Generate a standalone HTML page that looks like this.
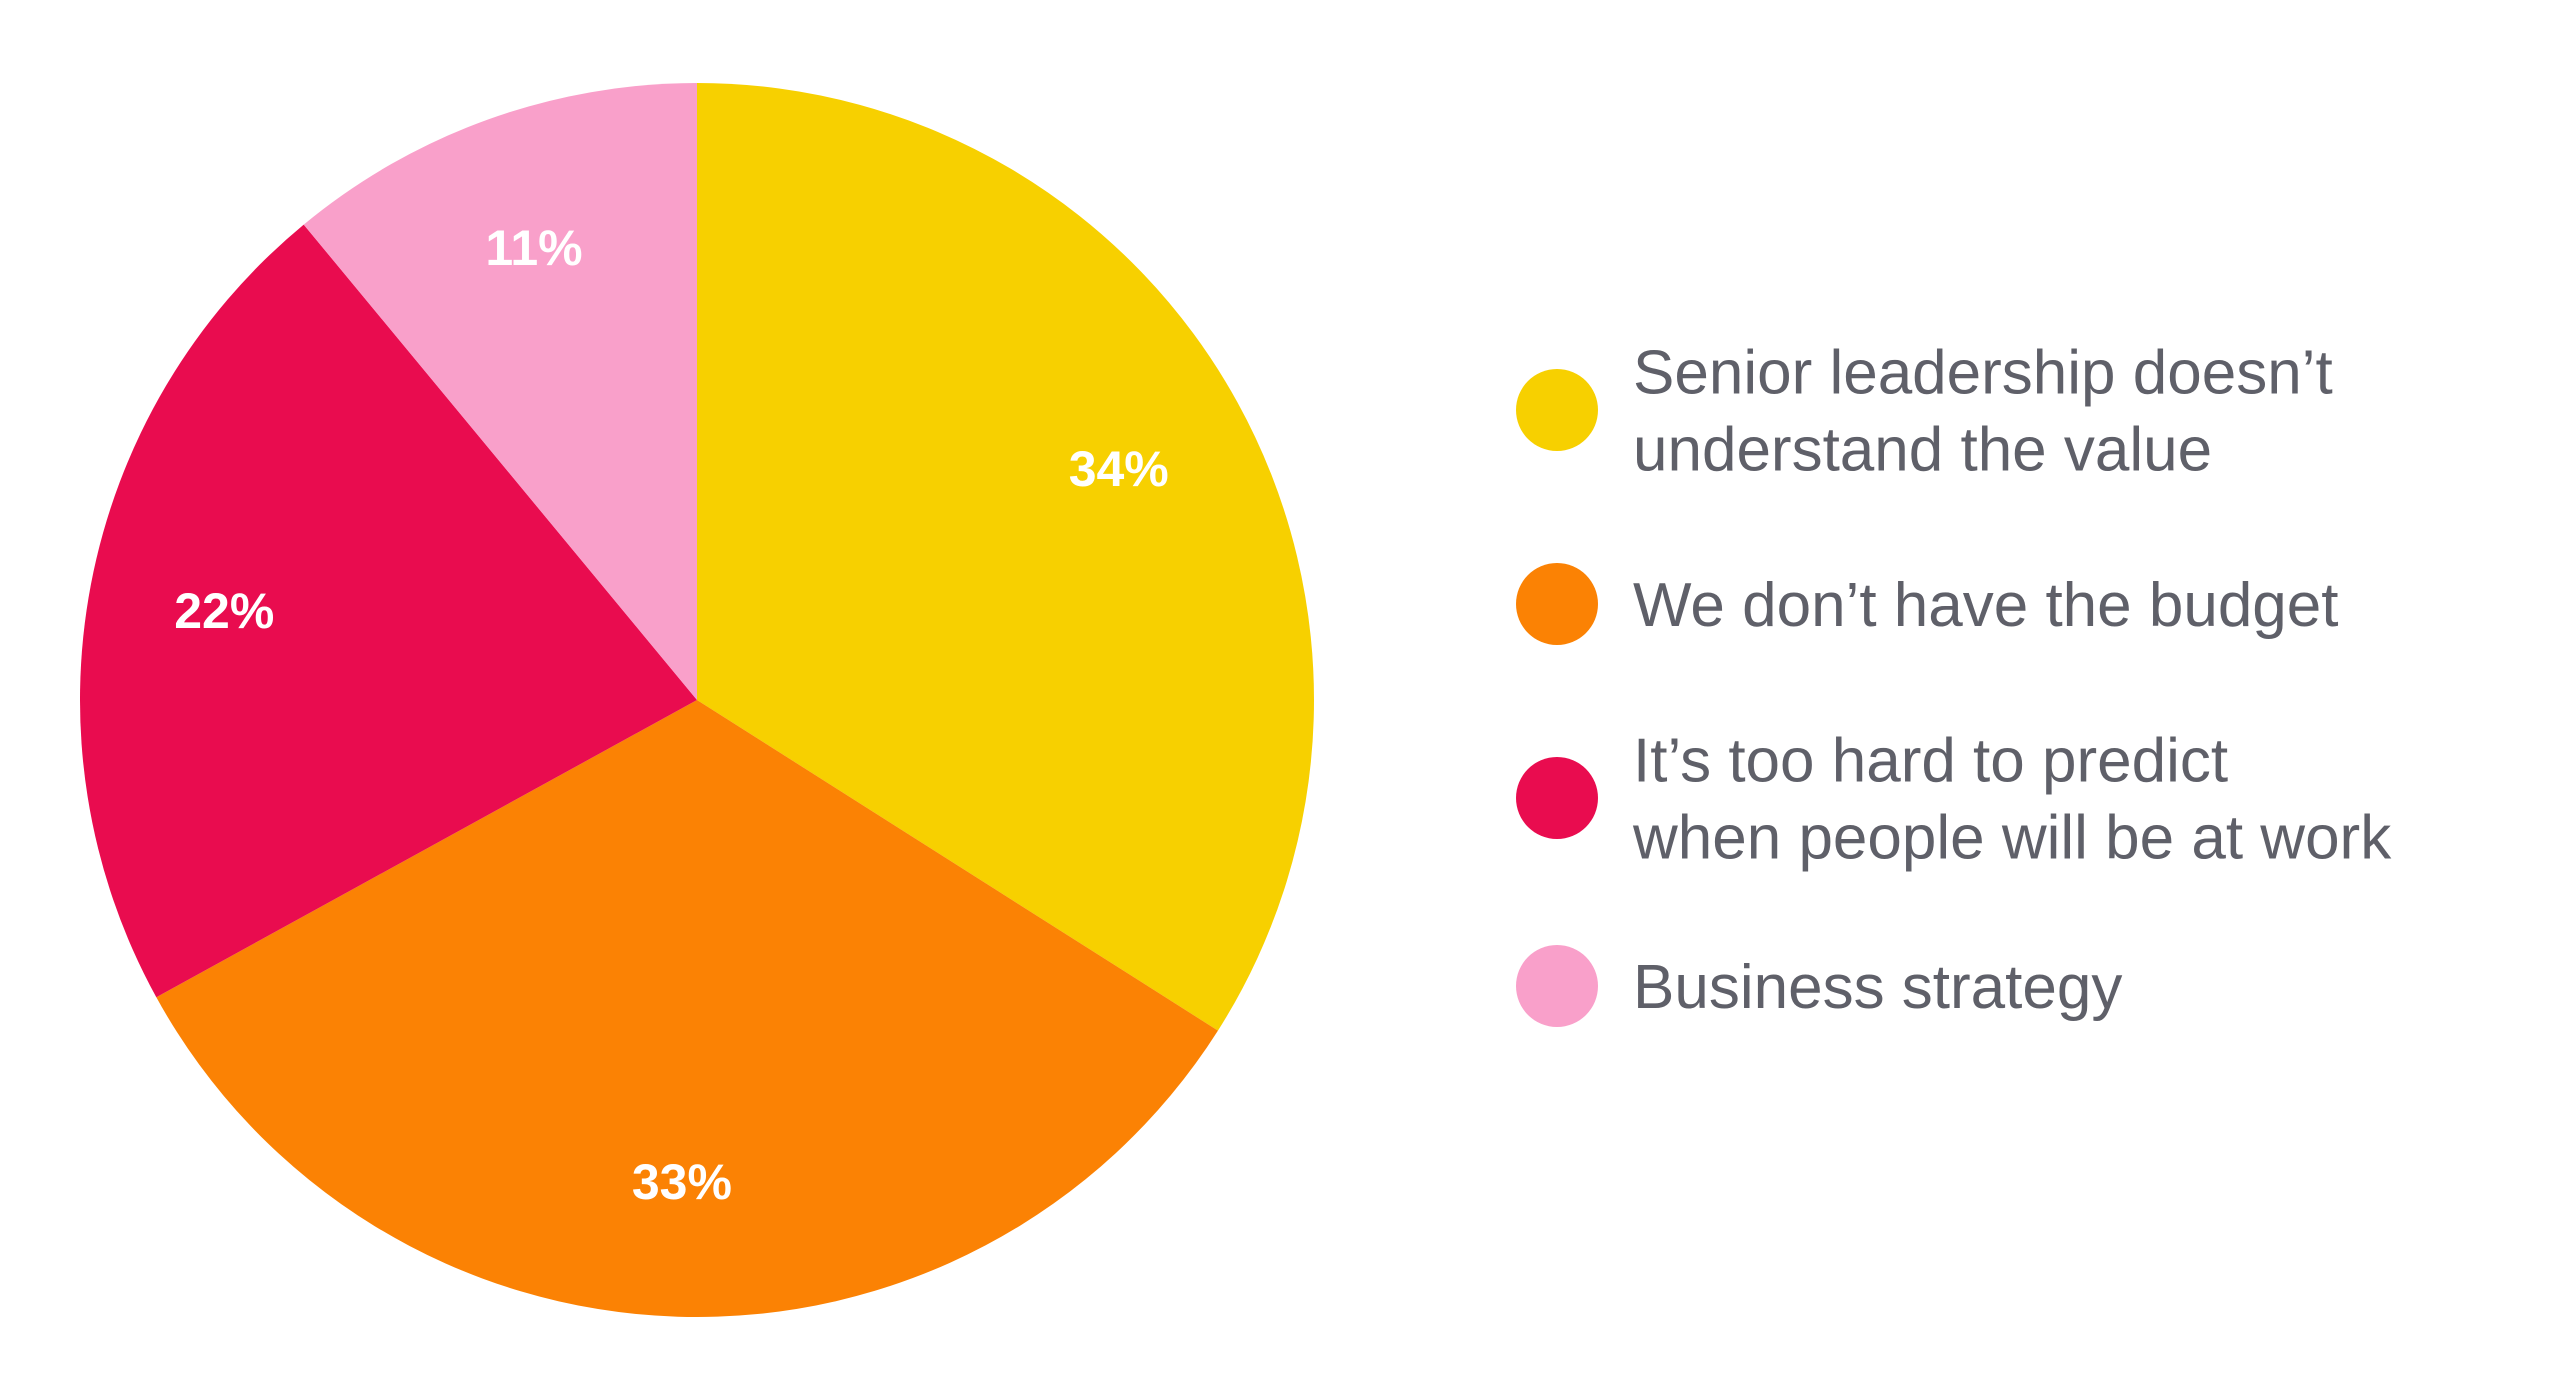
<!DOCTYPE html>
<html><head><meta charset="utf-8"><style>
html,body{margin:0;padding:0;background:#fff;}
svg{display:block;}
.lg{font-family:"Liberation Sans",sans-serif;font-size:62px;fill:#5f6069;}
.pc{font-family:"Liberation Sans",sans-serif;font-size:50px;font-weight:bold;fill:#fff;text-anchor:middle;}
</style></head><body>
<svg width="2560" height="1387" viewBox="0 0 2560 1387">
<g id="slices"></g>
<g id="labels"></g>
<g id="legend"></g>
</svg>
<script>
const categories = [["Senior leadership doesn\u2019t","understand the value"],["We don\u2019t have the budget"],["It\u2019s too hard to predict","when people will be at work"],["Business strategy"]];
const values = [34, 33, 22, 11];
const valueLabels = ["34%", "33%", "22%", "11%"];
const colors = ["#f7d000", "#fb8204", "#e90c4f", "#f9a0ca"];
const NS = "http://www.w3.org/2000/svg";
const cx = 697, cy = 700, r = 617;
const total = values.reduce((a, b) => a + b, 0);
function pt(frac, rad) {
  const a = frac * 2 * Math.PI;
  return [cx + rad * Math.sin(a), cy - rad * Math.cos(a)];
}
const gS = document.getElementById('slices'), gL = document.getElementById('labels'), gG = document.getElementById('legend');
let acc = 0;
values.forEach((v, i) => {
  const f0 = acc / total, f1 = (acc + v) / total;
  acc += v;
  const p0 = pt(f0, r), p1 = pt(f1, r);
  const large = (f1 - f0) > 0.5 ? 1 : 0;
  const path = document.createElementNS(NS, 'path');
  path.setAttribute('d', `M${cx},${cy} L${p0[0]},${p0[1]} A${r},${r} 0 ${large} 1 ${p1[0]},${p1[1]} Z`);
  path.setAttribute('fill', colors[i]);
  
  
  gS.appendChild(path);
  const lp = pt((f0 + f1) / 2, r * 0.78);
  const t = document.createElementNS(NS, 'text');
  t.setAttribute('x', lp[0]);
  t.setAttribute('y', lp[1] + 18);
  t.setAttribute('class', 'pc');
  t.textContent = valueLabels[i];
  
  
  gL.appendChild(t);
});
const dotY = [410, 604, 798, 986];
categories.forEach((lines, i) => {
  const c = document.createElementNS(NS, 'circle');
  c.setAttribute('cx', 1557);
  c.setAttribute('cy', dotY[i]);
  c.setAttribute('r', 41);
  c.setAttribute('fill', colors[i]);
  
  
  gG.appendChild(c);
  const t = document.createElementNS(NS, 'text');
  t.setAttribute('class', 'lg');
  
  
  const base = dotY[i] + 22 - (lines.length - 1) * 38.5;
  lines.forEach((ln, j) => {
    const ts = document.createElementNS(NS, 'tspan');
    ts.setAttribute('x', 1633);
    ts.setAttribute('y', base + j * 77);
    ts.textContent = ln;
    t.appendChild(ts);
  });
  gG.appendChild(t);
});
</script>
</body></html>
